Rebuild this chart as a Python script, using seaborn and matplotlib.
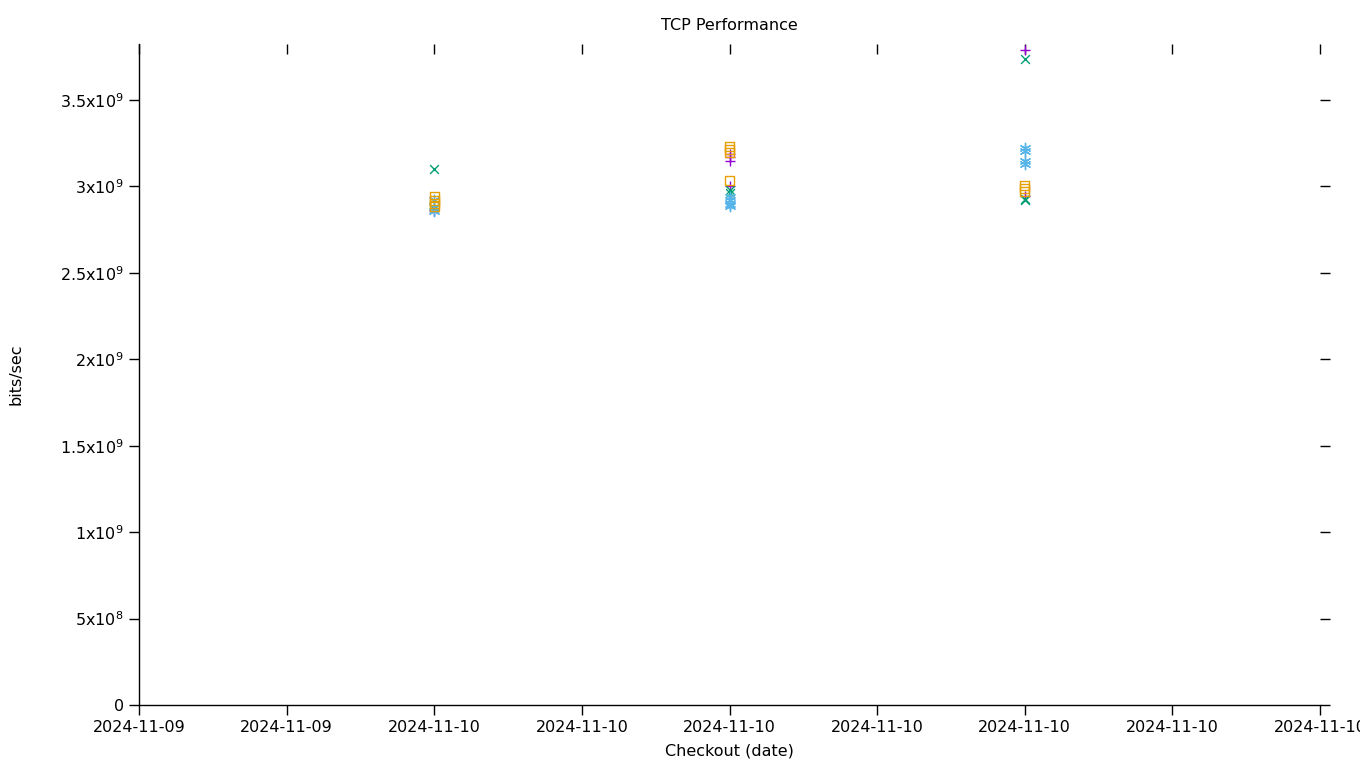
import matplotlib
matplotlib.use("Agg")
import matplotlib.pyplot as plt
import matplotlib.dates as mdates
from matplotlib.ticker import FuncFormatter, MultipleLocator
import seaborn as sns
import pandas as pd
import numpy as np

# ---- data ----
run_dates = ["2024-11-10 00:00", "2024-11-10 02:00", "2024-11-10 04:00"]

plus_run = [0, 1, 1, 1, 1, 2, 2]
plus_vals = [2.855e9, 3.19e9, 3.17e9, 3.15e9, 3.00e9, 3.79e9, 2.945e9]

cross_run = [0, 0, 1, 1, 2, 2, 2]
cross_vals = [3.10e9, 2.87e9, 2.98e9, 2.96e9, 3.735e9, 2.93e9, 2.92e9]

star_run = [0, 0, 0, 1, 1, 1, 1, 2, 2, 2, 2]
star_vals = [2.92e9, 2.88e9, 2.86e9, 2.94e9, 2.92e9, 2.90e9, 2.885e9,
             3.225e9, 3.205e9, 3.15e9, 3.13e9]

square_run = [0, 0, 0, 0, 1, 1, 1, 1, 2, 2, 2]
square_vals = [2.94e9, 2.92e9, 2.90e9, 2.885e9, 3.23e9, 3.215e9, 3.195e9, 3.035e9,
               3.005e9, 2.99e9, 2.97e9]

x_start = "2024-11-09 22:00"
x_end = "2024-11-10 06:00"
y_max = 3.824e9

title = "TCP Performance"
xlabel = "Checkout (date)"
ylabel = "bits/sec"

# ---- plotting ----
sns.set_theme(style="white")
plt.rcParams['font.family'] = ['DejaVu Sans']
plt.rcParams['text.color'] = 'black'
plt.rcParams['axes.labelcolor'] = 'black'
plt.rcParams['xtick.color'] = 'black'
plt.rcParams['ytick.color'] = 'black'
plt.rcParams['axes.titlecolor'] = 'black'

fig = plt.figure(figsize=(13.6, 7.68), dpi=100)
ax = fig.add_axes([139/1360, 63/768, (1320-139)/1360, (705-44)/768])

dts = pd.to_datetime(run_dates)

def frame(run, vals):
    return pd.DataFrame({"date": dts[run], "value": vals})

specs = [
    (plus_run, plus_vals, "+", "#9400d3", 55, 1.0, None),
    (cross_run, cross_vals, "x", "#009e73", 40, 1.0, None),
    (star_run, star_vals, (6, 2, 0), "#56b4e9", 55, 1.0, None),
    (square_run, square_vals, "s", "#e69f00", 40, 1.0, "none"),
]
for run, vals, mk, col, s, lw, fc in specs:
    df = frame(run, vals)
    if fc == "none":
        sns.scatterplot(data=df, x="date", y="value", marker=mk, s=s, ax=ax,
                        facecolors="none", edgecolor=col, linewidth=1.0)
    else:
        sns.scatterplot(data=df, x="date", y="value", marker=mk, s=s, ax=ax,
                        color=col, linewidth=lw)

ax.set_xlim(pd.Timestamp(x_start), pd.Timestamp(x_end))
ax.set_ylim(0, y_max)

ax.xaxis.set_major_locator(mdates.HourLocator(interval=1))
ax.xaxis.set_major_formatter(mdates.DateFormatter("%Y-%m-%d"))
ax.yaxis.set_major_locator(MultipleLocator(5e8))

def yfmt(v, pos):
    if v <= 0:
        return "0"
    exp = int(np.floor(np.log10(v)))
    mant = v / 10**exp
    ms = ("%g" % round(mant, 3))
    return ms + "x10$^{" + str(exp) + "}$"

ax.yaxis.set_major_formatter(FuncFormatter(yfmt))

for side in ["top", "right"]:
    ax.spines[side].set_visible(False)
for side in ["left", "bottom"]:
    ax.spines[side].set_color("black")
    ax.spines[side].set_linewidth(1.0)

ax.tick_params(axis="y", direction="out", left=True, right=True, length=7,
               width=1, color="black", labelcolor="black", labelsize=11.5, pad=4)
ax.tick_params(axis="x", direction="out", bottom=True, length=7, width=1,
               color="black", labelcolor="black", labelsize=11.5, pad=4)

sec = ax.secondary_xaxis("top")
sec.xaxis.set_major_locator(mdates.HourLocator(interval=1))
sec.tick_params(axis="x", direction="in", length=7, width=1, color="black",
                labeltop=False)
sec.spines["top"].set_visible(False)

ax.set_title(title, fontsize=11.5, pad=10, color="black")
ax.set_xlabel(xlabel, fontsize=11.5, labelpad=6, color="black")
ax.set_ylabel(ylabel, fontsize=11.5, color="black")
ax.yaxis.set_label_coords(-(139 - 23) / (1320 - 139), 0.5)
ax.grid(False)

fig.savefig("out.png", dpi=100)
